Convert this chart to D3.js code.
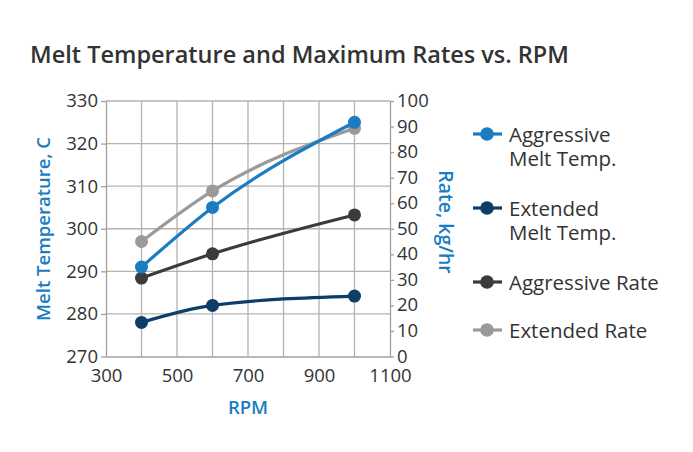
<!DOCTYPE html>
<html><head><meta charset="utf-8">
<script src="https://cdn.jsdelivr.net/npm/d3@7"></script>
<style>
body{margin:0;background:#fff;}
svg{display:block;font-family:"Open Sans",sans-serif;}
</style></head>
<body><svg id="c" width="693" height="452"></svg>
<script>
const rpm = [400, 600, 1000];
const aggressiveMeltTemp = [291, 305, 325];
const extendedMeltTemp = [278, 282, 284.2];
const aggressiveRate = [30.7, 40.2, 55.4];
const extendedRate = [45, 64.8, 89.3];
const xTicks = [300, 500, 700, 900, 1100];
const leftTicks = [270, 280, 290, 300, 310, 320, 330];
const rightTicks = [0, 10, 20, 30, 40, 50, 60, 70, 80, 90, 100];
const seriesNames = ["Aggressive\nMelt Temp.", "Extended\nMelt Temp.", "Aggressive Rate", "Extended Rate"];
const colors = ["#1a7cc1", "#0e3d68", "#3b3b3b", "#9a9a9a"];

const svg = d3.select("#c");
const x = d3.scaleLinear().domain([300, 1100]).range([106, 390]);
const yL = d3.scaleLinear().domain([270, 330]).range([356.5, 101]);
const yR = d3.scaleLinear().domain([0, 100]).range([356.5, 101]);

svg.append("text").attr("x", 30).attr("y", 63).attr("fill", "#333")
  .attr("font-size", 23.5).attr("font-weight", 600).text("Melt Temperature and Maximum Rates vs. RPM");

// grid
const g = svg.append("g");
g.selectAll(".vg").data([400,500,600,700,800,900,1000]).join("line")
  .attr("x1", d => x(d)).attr("x2", d => x(d)).attr("y1", yL(330)).attr("y2", yL(270))
  .attr("stroke", "#b3b3b3").attr("stroke-width", 1.3);
g.selectAll(".hg").data(leftTicks.slice(1)).join("line")
  .attr("x1", x(300)).attr("x2", x(1100)).attr("y1", d => yL(d)).attr("y2", d => yL(d))
  .attr("stroke", "#b3b3b3").attr("stroke-width", 1.3);

function styleAxis(sel){
  sel.select(".domain").attr("stroke", "#a0a0a0").attr("stroke-width", 1.3);
  sel.selectAll(".tick line").attr("stroke", "#a0a0a0").attr("stroke-width", 1.3);
  sel.selectAll(".tick text").attr("fill", "#333").attr("font-size", 18.5).attr("font-family", "Open Sans, sans-serif");
}
const fmt = d3.format("d");
const ax = svg.append("g").attr("transform", `translate(0,${yL(270)})`)
  .call(d3.axisBottom(x).tickValues(xTicks).tickFormat(fmt).tickSize(0).tickSizeOuter(0).tickPadding(12));
styleAxis(ax);
ax.selectAll(".tick text").attr("dy", "0.71em");
const al = svg.append("g").attr("transform", `translate(${x(300)},0)`)
  .call(d3.axisLeft(yL).tickValues(leftTicks).tickFormat(fmt).tickSize(5).tickSizeOuter(0).tickPadding(3));
styleAxis(al);
const ar = svg.append("g").attr("transform", `translate(${x(1100)},0)`)
  .call(d3.axisRight(yR).tickValues(rightTicks).tickFormat(fmt).tickSize(4).tickSizeOuter(0).tickPadding(3));
styleAxis(ar);
ar.selectAll(".tick text").attr("dy", "0.3em");

// axis titles
svg.append("text").attr("transform", `translate(50,229) rotate(-90)`).attr("text-anchor", "middle")
  .attr("fill", "#1a7cc1").attr("font-size", 18.5).attr("font-weight", 600).text("Melt Temperature, C");
svg.append("text").attr("transform", `translate(439,222) rotate(90)`).attr("text-anchor", "middle")
  .attr("fill", "#1a7cc1").attr("font-size", 19.5).attr("font-weight", 600).text("Rate, kg/hr");
svg.append("text").attr("x", 248).attr("y", 414).attr("text-anchor", "middle")
  .attr("fill", "#1a7cc1").attr("font-size", 18.5).attr("font-weight", 600).text("RPM");

const series = [
  {vals: aggressiveMeltTemp, y: yL},
  {vals: extendedMeltTemp, y: yL},
  {vals: aggressiveRate, y: yR},
  {vals: extendedRate, y: yR}
];
const drawOrder = [1, 2, 3, 0];
drawOrder.forEach(i => {
  const s = series[i];
  const pts = rpm.map((r, j) => [x(r), s.y(s.vals[j])]);
  svg.append("path").attr("d", d3.line().curve(d3.curveMonotoneX)(pts))
    .attr("fill", "none").attr("stroke", colors[i]).attr("stroke-width", 3.2);
  svg.append("g").selectAll("circle").data(pts).join("circle")
    .attr("cx", d => d[0]).attr("cy", d => d[1]).attr("r", 6.5).attr("fill", colors[i]);
});

// legend
const legY = [134, 208, 282, 330];
seriesNames.forEach((name, i) => {
  const lg = svg.append("g").attr("transform", `translate(0,${legY[i]})`);
  lg.append("line").attr("x1", 473).attr("x2", 502).attr("y1", 0).attr("y2", 0)
    .attr("stroke", colors[i]).attr("stroke-width", 3.2);
  lg.append("circle").attr("cx", 487).attr("cy", 0).attr("r", 6.8).attr("fill", colors[i]);
  name.split("\n").forEach((ln, k) => lg.append("text").attr("x", 509).attr("y", 7.5 + k * 24)
    .attr("fill", "#333").attr("font-size", 20.5).text(ln));
});
</script></body></html>
